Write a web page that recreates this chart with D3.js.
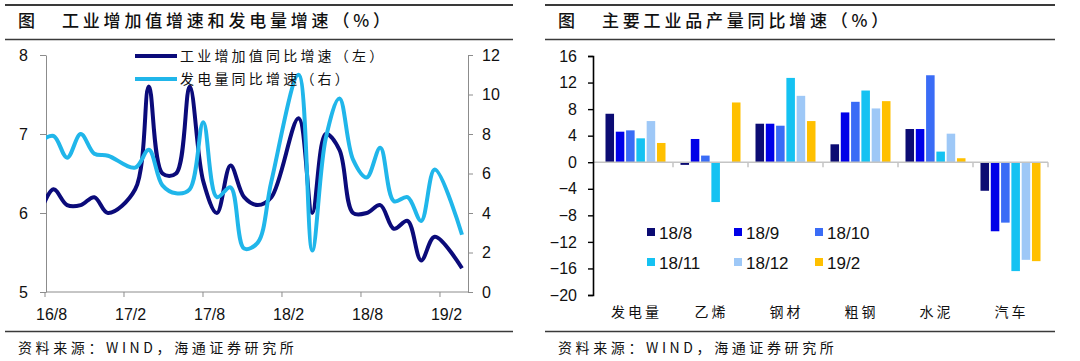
<!DOCTYPE html>
<html>
<head>
<meta charset="utf-8">
<script src="https://cdn.jsdelivr.net/npm/d3@7"></script>
<style>
  body { margin: 0; background: #fff; }
  svg { display: block; }
  text { font-family: "Liberation Sans", Arial, sans-serif; fill: #111; }
</style>
</head>
<body>
<svg id="chart" width="1080" height="361"></svg>
<script>
// ---- dati grafico sinistro (mensili, gennaio assente) ----
const months = ["16/7","16/8","16/9","16/10","16/11","16/12",
  "17/1","17/2","17/3","17/4","17/5","17/6","17/7","17/8","17/9","17/10","17/11","17/12",
  "18/1","18/2","18/3","18/4","18/5","18/6","18/7","18/8","18/9","18/10","18/11","18/12",
  "19/1","19/2"];
const ivaGrowth = [6.0, 6.3, 6.1, 6.1, 6.2, 6.0,
  null, 6.3, 7.6, 6.5, 6.5, 7.6, 6.4, 6.0, 6.6, 6.2, 6.1, 6.2,
  null, 7.2, 6.0, 7.0, 6.8, 6.0, 6.0, 6.1, 5.8, 5.9, 5.4, 5.7,
  null, 5.3];
const powerGrowth = [7.6, 7.9, 6.8, 8.0, 7.0, 6.9,
  null, 6.3, 7.2, 5.4, 5.0, 5.2, 8.6, 4.8, 5.3, 2.2, 2.5, 5.6,
  null, 11.0, 2.1, 7.8, 9.8, 6.7, 5.8, 7.3, 4.6, 4.8, 3.6, 6.2,
  null, 2.9];
const xTickLabels = ["16/8", "17/2", "17/8", "18/2", "18/8", "19/2"];
const leftTicks = [5, 6, 7, 8];
const rightTicks = [0, 2, 4, 6, 8, 10, 12];

// ---- dati grafico destro ----
const products = ["发电量", "乙烯", "钢材", "粗钢", "水泥", "汽车"];
const periods = ["18/8", "18/9", "18/10", "18/11", "18/12", "19/2"];
const v18_8  = [7.3, -0.4, 5.8, 2.7, 5.0, -4.3];
const v18_9  = [4.6, 3.5, 5.8, 7.5, 5.0, -10.4];
const v18_10 = [4.8, 1.0, 5.5, 9.1, 13.1, -9.1];
const v18_11 = [3.6, -6.0, 12.7, 10.8, 1.6, -16.4];
const v18_12 = [6.2, 0.0, 10.0, 8.1, 4.3, -14.7];
const v19_2  = [2.9, 9.0, 6.2, 9.2, 0.6, -14.9];
const barTicks = [-20, -16, -12, -8, -4, 0, 4, 8, 12, 16];
const barColors = ["#0b0b73", "#0000e8", "#3a6cf6", "#15c2f2", "#9ec8f7", "#ffc000"];

const svg = d3.select("#chart");
const cn = '"Noto Sans CJK SC", sans-serif';

// Cornice di ogni pannello: righe, titolo, fonte
function drawFrame(x0, x1, title) {
  svg.append("line").attr("x1", x0).attr("x2", x1).attr("y1", 5).attr("y2", 5)
    .attr("stroke", "#3a3a3a").attr("stroke-width", 2.2);
  svg.append("line").attr("x1", x0).attr("x2", x1).attr("y1", 39.5).attr("y2", 39.5)
    .attr("stroke", "#3a3a3a").attr("stroke-width", 1.5);
  svg.append("line").attr("x1", x0).attr("x2", x1).attr("y1", 331.5).attr("y2", 331.5)
    .attr("stroke", "#3a3a3a").attr("stroke-width", 1.5);
  svg.append("text").attr("x", x0 + 13).attr("y", 27)
    .style("font-family", cn).style("font-size", "17px").style("font-weight", 500).text("图");
  svg.append("text").attr("x", x0 + 57).attr("y", 27)
    .style("font-family", cn).style("font-size", "17px").style("font-weight", 500)
    .style("letter-spacing", "3.8px")
    .text(title);
  svg.append("text").attr("x", x0 + 13).attr("y", 353)
    .style("font-family", cn).style("font-size", "14px").style("letter-spacing", "3.6px")
    .text("资料来源：WIND，海通证券研究所");
}
drawFrame(5, 513, "工业增加值增速和发电量增速（%）");
drawFrame(545, 1055, "主要工业品产量同比增速（%）");

// ================= grafico a linee =================
const L = { left: 46, right: 468, top: 55, bottom: 292 };
const xL = d3.scaleLinear().domain([1, 31]).range([53.5, 462]);
const yLeft = d3.scaleLinear().domain([5, 8]).range([L.bottom, L.top]);
const yRight = d3.scaleLinear().domain([0, 12]).range([L.bottom, L.top]);
const xSlots = d3.scaleLinear().domain([0, 32]).range([45, 466.3]);

const axisGrey = "#8c8c8c";

const gLeft = svg.append("g").attr("transform", `translate(${L.left},0)`)
  .call(d3.axisLeft(yLeft).tickValues(leftTicks).tickFormat(d3.format("d"))
    .tickSize(6).tickPadding(12).tickSizeOuter(0));
const gRight = svg.append("g").attr("transform", `translate(${L.right},0)`)
  .call(d3.axisRight(yRight).tickValues(rightTicks).tickFormat(d3.format("d"))
    .tickSize(5).tickPadding(9).tickSizeOuter(0));
[gLeft, gRight].forEach(g => {
  g.select(".domain").attr("stroke", axisGrey);
  g.selectAll(".tick line").attr("stroke", axisGrey);
  g.selectAll(".tick text").style("font-size", "16px").attr("fill", "#111");
});

// asse x
svg.append("line").attr("x1", L.left).attr("x2", L.right)
  .attr("y1", L.bottom).attr("y2", L.bottom).attr("stroke", axisGrey);
xTickLabels.forEach((lab, i) => {
  const s = i * 6;
  svg.append("line").attr("x1", xSlots(s)).attr("x2", xSlots(s))
    .attr("y1", L.bottom).attr("y2", L.bottom + 5).attr("stroke", axisGrey);
  svg.append("text").attr("x", xSlots(s + 0.5)).attr("y", 320)
    .attr("text-anchor", "middle").style("font-size", "16px").text(lab);
});

svg.append("clipPath").attr("id", "clipL").append("rect")
  .attr("x", L.left).attr("y", 0).attr("width", L.right - L.left).attr("height", L.bottom);

function drawLine(values, yScale, color) {
  const pts = values.map((v, i) => ({ i, v })).filter(d => d.v !== null);
  svg.append("path")
    .datum(pts)
    .attr("clip-path", "url(#clipL)")
    .attr("fill", "none")
    .attr("stroke", color)
    .attr("stroke-width", 4)
    .attr("stroke-linejoin", "round")
    .attr("d", d3.line().curve(d3.curveCatmullRom).x(d => xL(d.i)).y(d => yScale(d.v)));
}
drawLine(ivaGrowth, yLeft, "#0b0b7a");
drawLine(powerGrowth, yRight, "#20b6ea");

// legenda linee
const lineLegend = [
  { name: "工业增加值同比增速（左）", color: "#0b0b7a" },
  { name: "发电量同比增速（右）", color: "#20b6ea" }
];
lineLegend.forEach((d, i) => {
  const y = 56 + i * 23;
  svg.append("line").attr("x1", 135).attr("x2", 177).attr("y1", y).attr("y2", y)
    .attr("stroke", d.color).attr("stroke-width", 4);
  svg.append("text").attr("x", 180).attr("y", y + 5)
    .style("font-family", cn).style("font-size", "14px").style("letter-spacing", "3.2px")
    .text(d.name);
});

// ================= grafico a barre =================
const R = { left: 593, right: 1048, top: 56, bottom: 295 };
const seriesValues = [v18_8, v18_9, v18_10, v18_11, v18_12, v19_2];
const yB = d3.scaleLinear().domain([-20, 16]).range([R.bottom, R.top]);
const xB = d3.scaleBand().domain(products).range([R.left + 5, R.right])
  .paddingInner(0.2).paddingOuter(0.1);
const xS = d3.scaleBand().domain(periods).range([0, xB.bandwidth()]).paddingInner(0.17);

const barData = [];
periods.forEach((p, si) => {
  products.forEach((c, ci) => {
    barData.push({ product: c, period: p, value: seriesValues[si][ci], color: barColors[si] });
  });
});

svg.append("g").selectAll("rect")
  .data(barData)
  .join("rect")
  .attr("x", d => xB(d.product) + xS(d.period))
  .attr("width", xS.bandwidth())
  .attr("y", d => yB(Math.max(0, d.value)))
  .attr("height", d => Math.abs(yB(d.value) - yB(0)))
  .attr("fill", d => d.color);

// linea dello zero con tacche tra le categorie
svg.append("line").attr("x1", R.left).attr("x2", R.right)
  .attr("y1", yB(0)).attr("y2", yB(0)).attr("stroke", "#c4c4c4").attr("stroke-width", 1.5);
products.forEach(c => {
  const bx = xB(c) - xB.step() * 0.1 + xB.step();
  svg.append("line").attr("x1", bx).attr("x2", bx)
    .attr("y1", yB(0)).attr("y2", yB(0) + 5).attr("stroke", "#c4c4c4").attr("stroke-width", 1.5);
});

const gB = svg.append("g").attr("transform", `translate(${R.left},0)`)
  .call(d3.axisLeft(yB).tickValues(barTicks).tickSize(5).tickPadding(11));
gB.select(".domain").attr("stroke", "#000").attr("stroke-width", 1.6);
gB.selectAll(".tick line").attr("stroke", "#000").attr("stroke-width", 1.4);
gB.selectAll(".tick text").style("font-size", "16px").attr("fill", "#111");

// etichette categorie
products.forEach(c => {
  svg.append("text").attr("x", xB(c) + xB.bandwidth() / 2 + 1).attr("y", 317)
    .attr("text-anchor", "middle")
    .style("font-family", cn).style("font-size", "14px").style("letter-spacing", "3px")
    .text(c);
});

// legenda barre (2 righe x 3 colonne)
const legendCols = [647, 734, 815];
periods.forEach((p, i) => {
  const cx = legendCols[i % 3];
  const cy = 232 + Math.floor(i / 3) * 30;
  svg.append("rect").attr("x", cx).attr("y", cy - 4).attr("width", 8).attr("height", 8)
    .attr("fill", barColors[i]);
  svg.append("text").attr("x", cx + 12).attr("y", cy + 6.5)
    .style("font-size", "17px").text(p);
});
</script>
</body>
</html>
